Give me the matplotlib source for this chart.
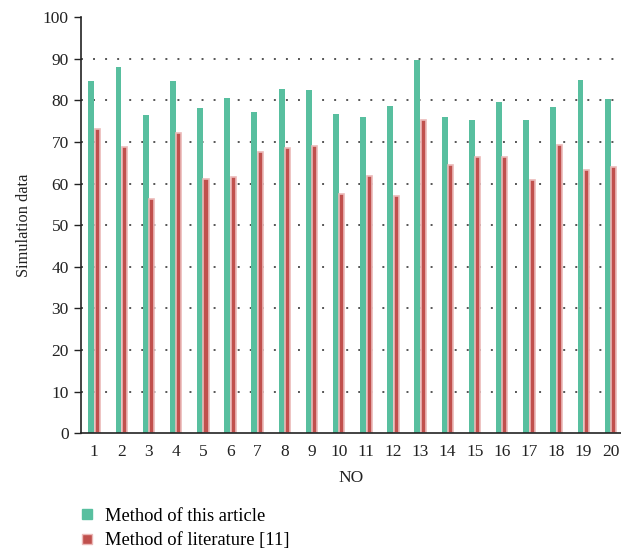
import matplotlib
matplotlib.use('Agg')
import matplotlib.pyplot as plt
import numpy as np
from matplotlib.lines import Line2D

plt.rcParams['font.family'] = ['Liberation Serif', 'DejaVu Serif']

# data
nos = list(range(1, 21))
this_article = [84.6, 88.0, 76.5, 84.6, 78.1, 80.5, 77.2, 82.7, 82.5, 76.7,
                76.0, 78.6, 89.7, 76.0, 75.3, 79.6, 75.3, 78.4, 84.9, 80.3]
literature_11 = [73.2, 68.8, 56.2, 72.1, 61.2, 61.5, 67.5, 68.5, 69.0, 57.5,
                 61.9, 57.0, 75.2, 64.5, 66.5, 66.5, 60.8, 69.3, 63.2, 64.1]
yticks = [0, 10, 20, 30, 40, 50, 60, 70, 80, 90, 100]

green = '#58BF9F'
red = '#C0504D'

fig = plt.figure(figsize=(6.21, 5.53), dpi=100)
ax = fig.add_axes([0.130, 0.2165, 0.87, 0.7525])

x = np.array(nos)
w = 0.22
for v in yticks[1:-1]:
    ax.axhline(v, color='#555555', lw=1.4, ls=(0, (1, 5.2)), zorder=0)
ax.bar(x - w / 2, this_article, width=w, color=green, zorder=2)
ax.bar(x + w / 2, literature_11, width=w * 0.85, color=red,
       edgecolor='#EBB9B8', linewidth=1.2, zorder=2)

ax.set_xlim(0.5, 20.38)
ax.set_ylim(0, 100)
ax.set_xticks(nos)
ax.set_yticks(yticks)
ax.tick_params(axis='x', length=0, labelsize=12.5, pad=8, colors='#222222')
ax.tick_params(axis='y', length=5, labelsize=12.5, colors='#222222', width=1)
for s in ['top', 'right']:
    ax.spines[s].set_visible(False)
for s in ['left', 'bottom']:
    ax.spines[s].set_linewidth(1.2)
    ax.spines[s].set_color('#222222')

ax.set_xlabel('NO', fontsize=12.5, color='#222222', labelpad=7)
ax.set_ylabel('Simulation data', fontsize=11.8, color='#222222', labelpad=8)

handles = [Line2D([], [], ls='none', marker='s', ms=6.5, color=green),
           Line2D([], [], ls='none', marker='s', ms=6.5, color=red,
                  markeredgecolor='#EBB9B8')]
fig.legend(handles, ['Method of this article', 'Method of literature [11]'],
           loc='upper left', bbox_to_anchor=(0.126, 0.082), frameon=False,
           fontsize=13.3, handletextpad=0.45, labelspacing=0.4,
           handlelength=1.0, borderaxespad=0, borderpad=0)

fig.savefig('out.png', dpi=100)
